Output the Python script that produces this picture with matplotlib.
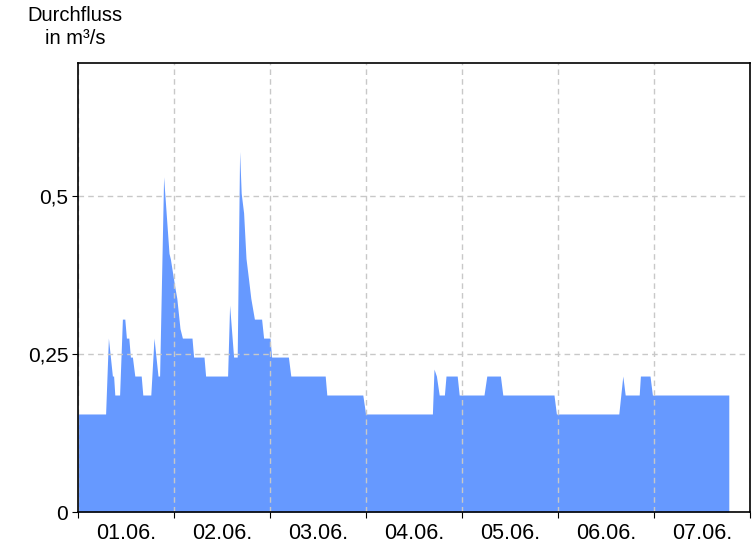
import matplotlib
matplotlib.use("Agg")
import matplotlib.pyplot as plt
from matplotlib.ticker import FixedLocator, NullFormatter, FixedFormatter

plt.rcParams['font.family'] = ['Liberation Sans', 'DejaVu Sans']

# Stunden seit 01.06. 00:00 und Durchfluss in m³/s
stunden = [0, 6.9, 7.6, 8.6, 8.9, 9.2, 10.4, 11.1, 11.7, 12.1, 12.7, 13.1, 13.6,
           14.2, 15.8, 16.2, 18.2, 19.0, 20.0, 20.4, 21.4, 22.75, 23.1, 24.2,
           24.7, 25.25, 25.5, 26.1, 28.5, 28.9, 31.5, 31.9, 37.4, 37.9, 38.9,
           39.8, 40.4, 40.8, 41.4, 42.0, 42.6, 43.2, 44.1, 45.9, 46.4, 48.0,
           48.4, 52.6, 53.2, 61.8, 62.2, 71.2, 71.9, 88.6, 89.0, 89.6, 90.3,
           91.6, 92.0, 94.8, 95.3, 101.5, 102.2, 105.6, 106.2, 119.0, 119.6,
           135.2, 136.2, 136.8, 140.3, 140.6, 143.0, 143.6, 162.7]
durchfluss = [0.155, 0.155, 0.275, 0.215, 0.215, 0.185, 0.185, 0.305, 0.305,
              0.275, 0.275, 0.245, 0.245, 0.215, 0.215, 0.185, 0.185, 0.275,
              0.215, 0.215, 0.53, 0.409, 0.40, 0.356, 0.338, 0.305, 0.29,
              0.275, 0.275, 0.245, 0.245, 0.215, 0.215, 0.327, 0.245, 0.245,
              0.57, 0.504, 0.473, 0.401, 0.37, 0.338, 0.305, 0.305, 0.275,
              0.275, 0.245, 0.245, 0.215, 0.215, 0.185, 0.185, 0.155, 0.155,
              0.226, 0.215, 0.185, 0.185, 0.215, 0.215, 0.185, 0.185, 0.215,
              0.215, 0.185, 0.185, 0.155, 0.155, 0.215, 0.185, 0.185, 0.215,
              0.215, 0.185, 0.185]

tage = ['01.06.', '02.06.', '03.06.', '04.06.', '05.06.', '06.06.', '07.06.']
y_ticks = [0, 0.25, 0.5]
y_labels = ['0', '0,25', '0,5']

fig = plt.figure(figsize=(7.56, 5.46), dpi=100)
ax = fig.add_axes([78 / 756, 34 / 546, 672 / 756, 449 / 546])

ax.fill_between(stunden, durchfluss, 0, color='#6699ff', linewidth=0, zorder=1)

ax.set_xlim(0, 24 * len(tage))
ax.set_ylim(0, 0.71)

# Tagesgrenzen als Ticks, Beschriftung in der Tagesmitte
ax.xaxis.set_major_locator(FixedLocator([24 * i for i in range(len(tage) + 1)]))
ax.xaxis.set_major_formatter(NullFormatter())
ax.xaxis.set_minor_locator(FixedLocator([24 * i + 12 for i in range(len(tage))]))
ax.xaxis.set_minor_formatter(FixedFormatter(tage))
ax.tick_params(axis='x', which='minor', length=0, pad=8, labelsize=15.5)
ax.tick_params(axis='x', which='major', length=4, direction='out')

ax.set_yticks(y_ticks)
ax.set_yticklabels(y_labels)
ax.tick_params(axis='y', length=4, labelsize=15, pad=3)

ax.grid(True, which='major', color='#c8c8c8', linestyle=(0, (4, 3)), linewidth=1)
ax.set_axisbelow(False)

for s in ax.spines.values():
    s.set_linewidth(1.2)
    s.set_zorder(3)

fig.text(75 / 756, 1 - 6 / 546, 'Durchfluss\nin m³/s', ha='center', va='top',
         fontsize=14.5, linespacing=1.3)

fig.savefig('out.png', dpi=100)
